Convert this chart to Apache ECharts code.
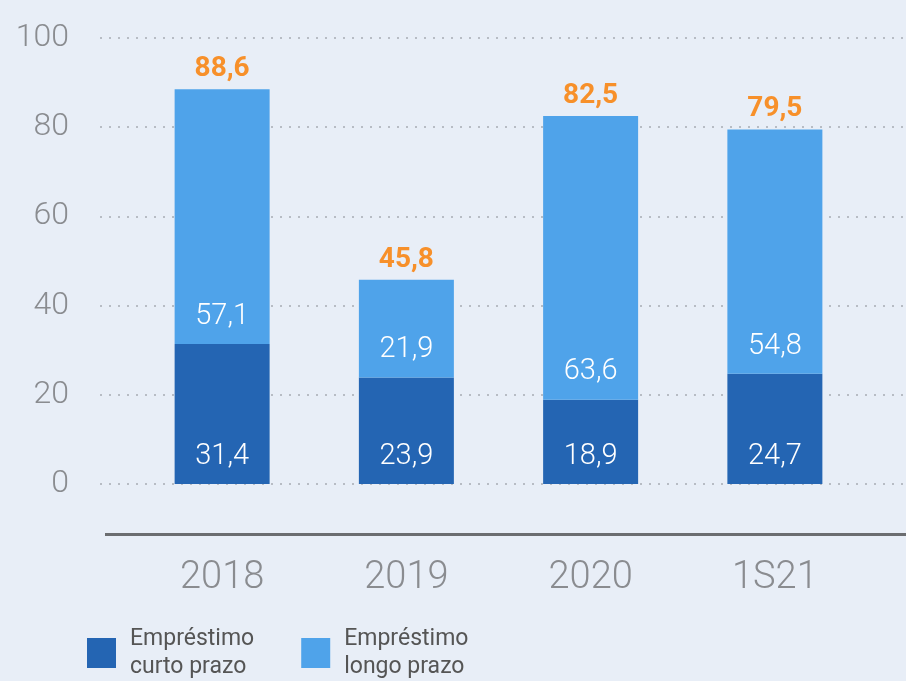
<!DOCTYPE html>
<html><head><meta charset="utf-8">
<script src="https://cdn.jsdelivr.net/npm/echarts@6/dist/echarts.min.js"></script>
<style>html,body{margin:0;padding:0;background:#e8eef7;}#c{width:906px;height:681px;}</style>
</head><body><div id="c"></div>
<script>
const categories = ['2018', '2019', '2020', '1S21'];
const curtoPrazo = [31.4, 23.9, 18.9, 24.7];
const longoPrazo = [57.1, 21.9, 63.6, 54.8];
const totals = [88.6, 45.8, 82.5, 79.5];
const yTicks = [0, 20, 40, 60, 80, 100];
const seriesNames = ['Empréstimo\ncurto prazo', 'Empréstimo\nlongo prazo'];

const fmt = v => String(v).replace('.', ',');
const chart = echarts.init(document.getElementById('c'));
const FONT = 'Roboto, "Open Sans", sans-serif';
chart.setOption({
  backgroundColor: '#e8eef7',
  animation: false,
  grid: [
    {left: 100, right: 0, top: 38, bottom: 197},
    {left: 130, right: 39, top: 38, bottom: 197}
  ],
  xAxis: [
    {gridIndex: 0, type: 'category', data: categories, show: false},
    {gridIndex: 1, type: 'category', data: categories, offset: 50,
     axisLine: {show: false}, axisTick: {show: false},
     axisLabel: {color: '#8a8c90', fontSize: 38, fontFamily: FONT, fontWeight: 300, margin: 25}}
  ],
  yAxis: [
    {gridIndex: 0, type: 'value', min: yTicks[0], max: yTicks[yTicks.length - 1], interval: 20,
     axisLine: {show: false}, axisTick: {show: false},
     axisLabel: {color: '#8a8c90', fontSize: 32, fontFamily: FONT, fontWeight: 300, margin: 31},
     splitLine: {lineStyle: {color: '#a6acb4', width: 1.5, type: [2, 7]}}},
    {gridIndex: 1, type: 'value', min: 0, max: 100, show: false, splitLine: {show: false}}
  ],
  legend: {
    left: 82, top: 620, itemWidth: 29, itemHeight: 30, itemGap: 47,
    icon: 'rect', data: seriesNames,
    textStyle: {color: '#555', fontSize: 23, lineHeight: 28, fontFamily: FONT, padding: [0, 0, 0, 9]}
  },
  graphic: [{type: 'rect', shape: {x: 105, y: 533, width: 801, height: 3}, style: {fill: '#6b6d70'}}],
  series: [
    {name: seriesNames[0], type: 'bar', stack: 's', xAxisIndex: 1, yAxisIndex: 1, data: curtoPrazo,
     barWidth: 95, itemStyle: {color: '#2465b3'},
     label: {show: true, position: 'insideBottom', distance: 13, color: '#fff', fontSize: 29, fontFamily: FONT, fontWeight: 300,
             formatter: p => fmt(p.value)}},
    {name: seriesNames[1], type: 'bar', stack: 's', xAxisIndex: 1, yAxisIndex: 1, data: longoPrazo,
     barWidth: 95, itemStyle: {color: '#4fa3ea'},
     label: {show: true, position: 'insideBottom', distance: 13, color: '#fff', fontSize: 29, fontFamily: FONT, fontWeight: 300,
             formatter: p => fmt(p.value)}},
    {name: 'total', type: 'bar', xAxisIndex: 1, yAxisIndex: 1, data: totals, barWidth: 95, barGap: '-100%',
     itemStyle: {color: 'rgba(0,0,0,0)'}, z: 1, silent: true,
     label: {show: true, position: 'top', distance: 6, color: '#f7902a', fontSize: 28, fontWeight: 'bold', fontFamily: FONT,
             formatter: p => fmt(p.value)}}
  ]
});
</script></body></html>
